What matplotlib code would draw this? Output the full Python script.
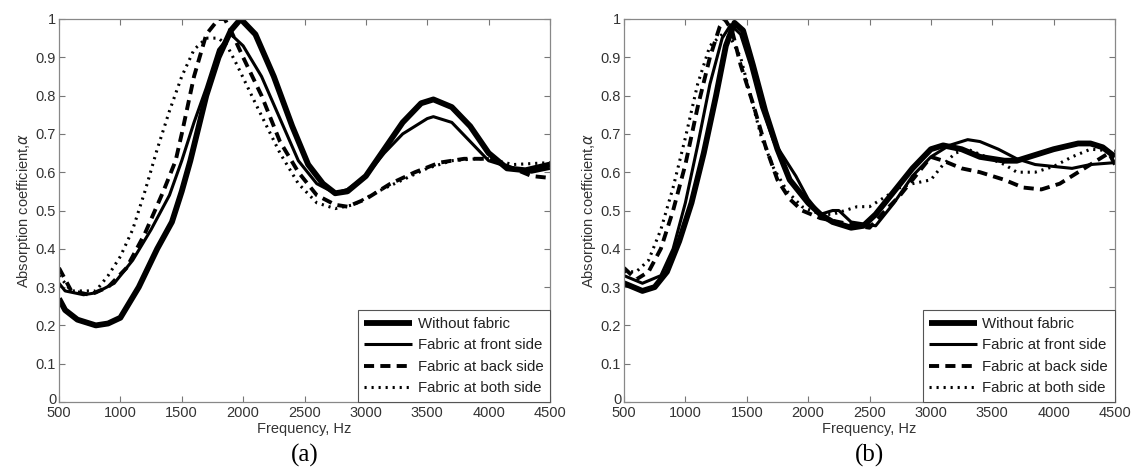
import matplotlib
matplotlib.use("Agg")
import matplotlib.pyplot as plt
import matplotlib.transforms as mtransforms

labels = ["Without fabric", "Fabric at front side", "Fabric at back side", "Fabric at both side"]

# Panel (a)
a_without_x = [500, 550, 650, 800, 900, 1000, 1150, 1300, 1420, 1500, 1570, 1700, 1800, 1900, 1980, 2100, 2250, 2400, 2530, 2650, 2750, 2850, 3000, 3150, 3300, 3450, 3550, 3700, 3850, 4000, 4150, 4300, 4500]
a_without_y = [0.27, 0.24, 0.215, 0.20, 0.205, 0.22, 0.30, 0.40, 0.47, 0.55, 0.63, 0.80, 0.90, 0.97, 1.0, 0.96, 0.85, 0.72, 0.62, 0.57, 0.545, 0.55, 0.59, 0.66, 0.73, 0.78, 0.79, 0.77, 0.72, 0.65, 0.61, 0.605, 0.62]
a_front_x = [500, 550, 700, 800, 950, 1100, 1250, 1400, 1500, 1600, 1700, 1800, 1900, 2000, 2150, 2300, 2450, 2600, 2750, 2850, 3000, 3150, 3300, 3500, 3550, 3700, 3850, 4000, 4200, 4350, 4500]
a_front_y = [0.31, 0.29, 0.28, 0.285, 0.31, 0.37, 0.45, 0.54, 0.63, 0.73, 0.82, 0.92, 0.96, 0.93, 0.85, 0.74, 0.63, 0.57, 0.545, 0.555, 0.59, 0.65, 0.70, 0.74, 0.745, 0.73, 0.68, 0.63, 0.61, 0.60, 0.61]
a_back_x = [500, 600, 750, 900, 1050, 1200, 1350, 1450, 1500, 1600, 1700, 1800, 1850, 1900, 2000, 2150, 2300, 2450, 2600, 2750, 2850, 3000, 3200, 3400, 3600, 3800, 4000, 4200, 4350, 4500]
a_back_y = [0.35, 0.29, 0.28, 0.30, 0.35, 0.44, 0.55, 0.63, 0.70, 0.85, 0.96, 1.0, 1.0, 0.97, 0.90, 0.80, 0.68, 0.60, 0.54, 0.515, 0.51, 0.53, 0.57, 0.60, 0.625, 0.635, 0.635, 0.61, 0.59, 0.585]
a_both_x = [500, 600, 800, 900, 1000, 1100, 1200, 1300, 1400, 1500, 1600, 1700, 1800, 1870, 1950, 2100, 2300, 2450, 2600, 2750, 2900, 3100, 3300, 3500, 3700, 3900, 4000, 4200, 4500]
a_both_y = [0.33, 0.29, 0.29, 0.33, 0.38, 0.45, 0.55, 0.66, 0.76, 0.85, 0.92, 0.95, 0.95, 0.93, 0.88, 0.78, 0.65, 0.57, 0.52, 0.505, 0.515, 0.55, 0.58, 0.61, 0.63, 0.635, 0.635, 0.62, 0.625]

# Panel (b)
b_without_x = [500, 650, 750, 850, 950, 1050, 1150, 1250, 1330, 1400, 1470, 1550, 1650, 1750, 1850, 2000, 2100, 2200, 2350, 2450, 2550, 2700, 2850, 3000, 3100, 3250, 3400, 3600, 3700, 3850, 4000, 4200, 4300, 4400, 4500]
b_without_y = [0.31, 0.29, 0.30, 0.34, 0.42, 0.52, 0.65, 0.80, 0.93, 0.99, 0.97, 0.88, 0.76, 0.66, 0.58, 0.52, 0.49, 0.47, 0.455, 0.46, 0.49, 0.55, 0.61, 0.66, 0.67, 0.66, 0.64, 0.63, 0.63, 0.645, 0.66, 0.675, 0.675, 0.665, 0.64]
b_front_x = [500, 650, 800, 900, 1000, 1100, 1200, 1300, 1370, 1450, 1530, 1620, 1720, 1800, 1900, 2000, 2100, 2200, 2250, 2350, 2450, 2550, 2700, 2850, 3000, 3150, 3300, 3400, 3550, 3700, 3850, 4000, 4150, 4300, 4500]
b_front_y = [0.33, 0.31, 0.33, 0.40, 0.52, 0.67, 0.83, 0.95, 0.985, 0.96, 0.88, 0.77, 0.68, 0.64, 0.59, 0.53, 0.49, 0.50, 0.50, 0.47, 0.465, 0.46, 0.52, 0.59, 0.64, 0.67, 0.685, 0.68, 0.66, 0.635, 0.62, 0.615, 0.61, 0.62, 0.625]
b_back_x = [500, 600, 700, 800, 900, 1000, 1100, 1200, 1280, 1320, 1380, 1450, 1550, 1650, 1750, 1850, 1950, 2100, 2250, 2400, 2500, 2600, 2750, 2900, 3000, 3100, 3250, 3400, 3600, 3750, 3900, 4050, 4200, 4350, 4450, 4500]
b_back_y = [0.35, 0.32, 0.34, 0.40, 0.50, 0.62, 0.77, 0.90, 0.98, 1.0, 0.97, 0.88, 0.78, 0.67, 0.58, 0.53, 0.50, 0.48, 0.47, 0.46, 0.455, 0.49, 0.54, 0.60, 0.64, 0.63, 0.61, 0.60, 0.58, 0.56, 0.555, 0.57, 0.60, 0.63, 0.65, 0.62]
b_both_x = [500, 600, 700, 800, 900, 1000, 1100, 1200, 1300, 1370, 1450, 1530, 1620, 1720, 1830, 1950, 2100, 2200, 2300, 2400, 2500, 2600, 2750, 2850, 3000, 3100, 3200, 3300, 3450, 3600, 3700, 3850, 4000, 4150, 4300, 4500]
b_both_y = [0.34, 0.34, 0.37, 0.45, 0.56, 0.69, 0.83, 0.93, 0.96, 0.95, 0.90, 0.80, 0.69, 0.61, 0.55, 0.51, 0.49, 0.49, 0.50, 0.51, 0.51, 0.53, 0.56, 0.57, 0.58, 0.62, 0.65, 0.66, 0.64, 0.62, 0.60, 0.60, 0.615, 0.64, 0.66, 0.655]

x_ticks = [500, 1000, 1500, 2000, 2500, 3000, 3500, 4000, 4500]
y_ticks = [0, 0.1, 0.2, 0.3, 0.4, 0.5, 0.6, 0.7, 0.8, 0.9, 1.0]
y_ticklabels = ["0", "0.1", "0.2", "0.3", "0.4", "0.5", "0.6", "0.7", "0.8", "0.9", "1"]
captions = ["(a)", "(b)"]

styles = [dict(lw=4.2, ls="-"), dict(lw=2.2, ls="-"), dict(lw=2.8, ls=(0, (2.6, 1.6))), dict(lw=2.2, ls=(0, (0.7, 1.6)))]

plt.rcParams['font.family'] = ['Liberation Sans', 'DejaVu Sans']

W, H = 1139, 476
fig = plt.figure(figsize=(W / 100, H / 100), dpi=100)
ax_a = fig.add_axes([59 / W, 1 - 402 / H, 491 / W, 383 / H])
ax_b = fig.add_axes([624 / W, 1 - 402 / H, 491 / W, 383 / H])

panels = [
    (ax_a, [(a_without_x, a_without_y), (a_front_x, a_front_y), (a_back_x, a_back_y), (a_both_x, a_both_y)], captions[0]),
    (ax_b, [(b_without_x, b_without_y), (b_front_x, b_front_y), (b_back_x, b_back_y), (b_both_x, b_both_y)], captions[1]),
]

for ax, series, cap in panels:
    for (x, y), lab, st in zip(series, labels, styles):
        ax.plot(x, y, color="black", label=lab, solid_capstyle="butt", **st)
    ax.set_xlim(500, 4500)
    ax.set_ylim(0, 1)
    ax.set_xticks(x_ticks)
    ax.set_yticks(y_ticks)
    ax.set_yticklabels(y_ticklabels)
    ax.tick_params(direction="in", top=True, right=True, length=4, width=0.8, color="#777777",
                   labelsize=10.5, labelcolor="#333333", pad=2)
    ax.tick_params(axis="x", pad=3)
    # raise the "0" label slightly so it sits above the "500" label, as in the reference
    zero_lab = ax.get_yticklabels()[0]
    zero_lab.set_transform(zero_lab.get_transform() +
                           mtransforms.ScaledTranslation(0, 3 / 100, fig.dpi_scale_trans))
    for s in ax.spines.values():
        s.set_color("#888888")
        s.set_linewidth(0.9)
    ax.set_xlabel("Frequency, Hz", fontsize=10.5, color="#333333", labelpad=1)
    ax.set_ylabel(r"Absorption coefficient,$\alpha$", fontsize=10.5, color="#333333", labelpad=2)
    leg = ax.legend(loc="lower right", fontsize=10.8, handlelength=3.2, handletextpad=0.35,
                    borderaxespad=0.0, fancybox=False, framealpha=1, borderpad=0.45, labelspacing=0.5)
    leg.get_frame().set_edgecolor("#555555")
    leg.get_frame().set_linewidth(0.8)
    for t in leg.get_texts():
        t.set_color("#222222")
    bb = ax.get_position()
    fig.text((bb.x0 + bb.x1) / 2, 1 - 455 / H, cap, ha="center", va="center",
             fontsize=18, family="Liberation Serif", color="black")

fig.savefig("out.png", dpi=100)
